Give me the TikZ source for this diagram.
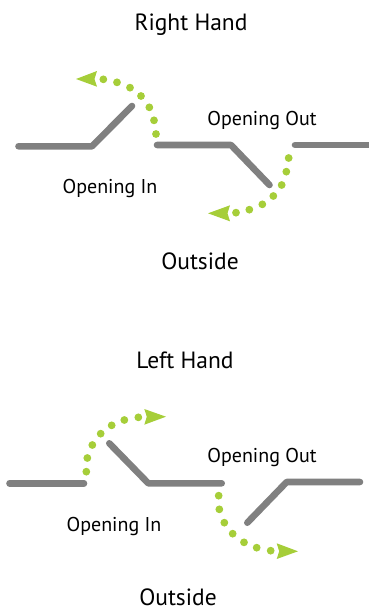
\documentclass[tikz,border=0pt]{standalone}
\usepackage{fontspec}
\setmainfont{PT Sans}
\definecolor{leafg}{RGB}{166,206,57}
\definecolor{panelg}{RGB}{128,128,128}
\tikzset{
  x=1pt,y=-1pt,
  panel/.style={draw=panelg,line width=6.6pt,line cap=round,line join=round},
  lab/.style={inner sep=0pt,anchor=base,text=black,font=\fontsize{20}{22}\selectfont},
  biglab/.style={inner sep=0pt,anchor=base,text=black,font=\fontsize{23.5}{26}\selectfont},
  dotm/.style={fill=leafg,draw=none},
  tipm/.style={fill=leafg,draw=none}
}
\newcommand{\dotsat}[1]{\foreach \p/\q in {#1} \fill[dotm] (\p/3,\q/3) circle (3.9pt);}
\begin{document}
\begin{tikzpicture}
\useasboundingbox (0,0) rectangle (369,610);
% top
\node[biglab] (t1) at (191,31) {Right Hand};
\node[lab] (t2) at (262,125) {Opening Out};
\node[lab] (t3) at (110,193) {Opening In};
\node[biglab] (t4) at (200,269) {Outside};
\coordinate (a1) at (18.5,146.3);\coordinate (a2) at (92,146.3);\coordinate (a3) at (132,106);
\coordinate (b1) at (157,145);\coordinate (b2) at (231,145);\coordinate (b3) at (269.5,185);
\coordinate (c1) at (295,145);\coordinate (c2) at (372,145);
\draw[panel] (a1)--(a2)--(a3);
\draw[panel] (b1)--(b2)--(b3);
\draw[panel] (c1)--(c2);
\begin{scope}[yshift=-50pt]
\dotsat{310/88,351/97,390/113,423/138,448/172,462/211,468/252,866/324,859/365,845/405,820/438,787/463,748/479,708/488}
\end{scope}
\fill[tipm] (76,79) -- (97,71) -- (94.5,79) -- (97,86.7) -- cycle;
\fill[tipm] (208,213.3) -- (230,205.3) -- (227.5,213.3) -- (230,221.3) -- cycle;
% bottom
\node[biglab] (b1l) at (185,368) {Left Hand};
\node[lab] (b2l) at (262,462) {Opening Out};
\node[lab] (b3l) at (114,531) {Opening In};
\node[biglab] (b4l) at (178,605) {Outside};
\coordinate (d1) at (9.5,483.3);\coordinate (d2) at (84,483.3);
\coordinate (e1) at (109.3,443.3);\coordinate (e2) at (148.3,483.3);\coordinate (e3) at (221.7,483.3);
\coordinate (f1) at (247.3,522.7);\coordinate (f2) at (286.7,482);\coordinate (f3) at (360,482);
\draw[panel] (d1)--(d2);
\draw[panel] (e1)--(e2)--(e3);
\draw[panel] (f1)--(f2)--(f3);
\begin{scope}[yshift=-390pt]
\dotsat{259/245,262/204,277/165,302/131,335/106,373/90,415/82,656/317,658/358,673/398,698/431,732/457,770/473,812/482}
\end{scope}
\fill[tipm] (166,416.7) -- (144.3,409) -- (146.8,416.7) -- (144.3,424.7) -- cycle;
\fill[tipm] (298,551.3) -- (276.7,543.3) -- (279.2,551.3) -- (276.7,559) -- cycle;
\end{tikzpicture}
\end{document}
